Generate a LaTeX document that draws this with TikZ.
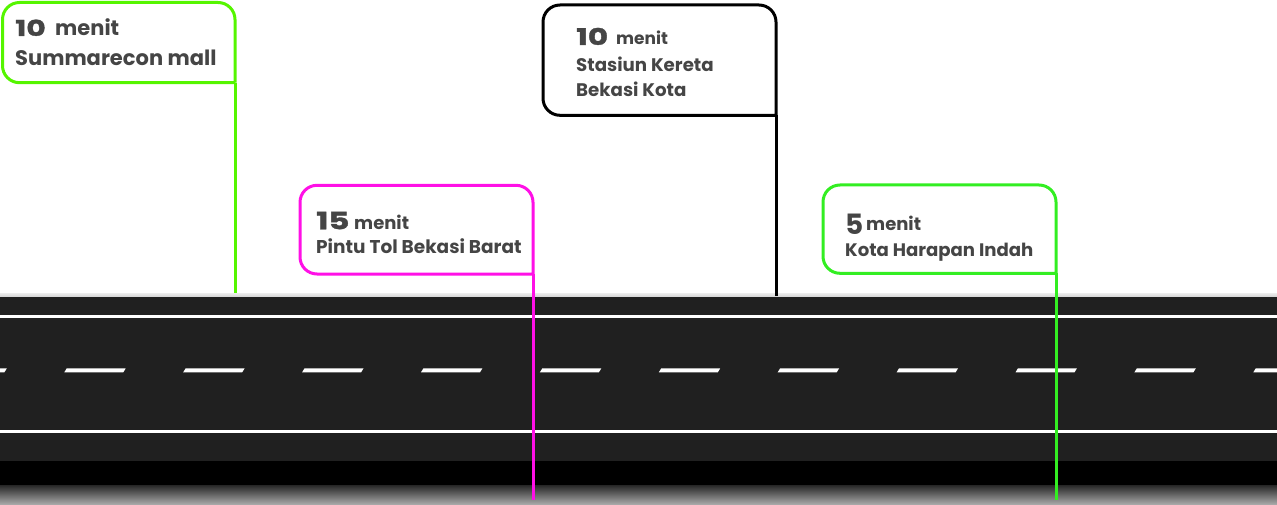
\documentclass[tikz,border=0pt]{standalone}
\usepackage{fontspec}
\setmainfont{Poppins}
\definecolor{txt}{HTML}{454545}
\definecolor{gA}{HTML}{55F500}
\definecolor{gB}{HTML}{33EE22}
\definecolor{mag}{HTML}{FF10E6}
\definecolor{road}{HTML}{202020}
\newcommand{\bignum}[2]{{\fontsize{#1}{#1}\selectfont\bfseries\addfontfeature{FakeBold=1.2}\scalebox{1.35}[1]{#2}}}
\begin{document}
\begin{tikzpicture}[x=1pt,y=-1pt,
  callout/.style={line width=3pt,rounded corners=17pt},
  lbl/.style={inner sep=0pt,anchor=base west,text=txt,font=\bfseries}]
\useasboundingbox (0,0) rectangle (1277,505);
% road
\shade[top color=gray!15,bottom color=gray!35] (0,293) rectangle (1277,297);
\fill[road] (0,297) rectangle (1277,461);
\fill[white] (0,314.5) rectangle (1277,317.5);
\fill[white] (0,430.2) rectangle (1277,433.4);
\foreach \k in {-1,...,10}{
  \fill[white] ({66.7+118.9*\k},368.4) -- ({125.7+118.9*\k},368.4) -- ({123.3+118.9*\k},372.3) -- ({64.3+118.9*\k},372.3) -- cycle;
}
\fill[black] (0,461) rectangle (1277,485);
\shade[top color=black!85,bottom color=black!32] (0,485) rectangle (1277,505);
% callout 1
\coordinate (c1) at (235,82.7);
\coordinate (e1) at (235,293);
\draw[callout,gA] (c1) -- (2.5,82.7) -- (2.5,2.5) -- (235,2.5) -- (c1);
\draw[gA,line width=3pt] (c1) -- (e1);
\node[lbl] (n1) at (15,36) {\bignum{22}{10}};
\node[lbl,font=\fontsize{21}{21}\selectfont\bfseries] (m1) at (55,36) {menit};
\node[lbl,font=\fontsize{21}{21}\selectfont\bfseries] (t1) at (15,66) {Summarecon mall};
% callout 2
\coordinate (c2) at (776,115.3);
\coordinate (e2) at (776,296);
\draw[callout,black] (c2) -- (543,115.3) -- (543,5) -- (776,5) -- (c2);
\draw[black,line width=3pt] (c2) -- (e2);
\node[lbl] (n2) at (576,45) {\bignum{23}{10}};
\node[lbl,font=\fontsize{17}{17}\selectfont\bfseries] (m2) at (616,45) {menit};
\node[lbl,font=\fontsize{18.2}{18.2}\selectfont\bfseries] (t2) at (576,71.7) {Stasiun Kereta};
\node[lbl,font=\fontsize{18.2}{18.2}\selectfont\bfseries] (u2) at (576,96.7) {Bekasi Kota};
% callout 3
\coordinate (c3) at (533,274);
\coordinate (e3) at (533,500);
\draw[callout,mag] (c3) -- (300,274) -- (300,185.3) -- (533,185.3) -- (c3);
\draw[mag,line width=3pt] (c3) -- (e3);
\node[lbl] (n3) at (316,229.3) {\bignum{24}{15}};
\node[lbl,font=\fontsize{18}{18}\selectfont\bfseries] (m3) at (354,229.3) {menit};
\node[lbl,font=\fontsize{18.5}{18.5}\selectfont\bfseries] (t3) at (316,253.3) {Pintu Tol Bekasi Barat};
% callout 4
\coordinate (c4) at (1056,273.3);
\coordinate (e4) at (1056,500);
\draw[callout,gB] (c4) -- (823,273.3) -- (823,185) -- (1056,185) -- (c4);
\draw[gB,line width=3pt] (c4) -- (e4);
\node[lbl,font=\fontsize{28}{28}\selectfont\bfseries] (n4) at (845,234) {5};
\node[lbl,font=\fontsize{18}{18}\selectfont\bfseries] (m4) at (866,231) {menit};
\node[lbl,font=\fontsize{18.1}{18.1}\selectfont\bfseries] (t4) at (845,256.7) {Kota Harapan Indah};
\end{tikzpicture}
\end{document}
